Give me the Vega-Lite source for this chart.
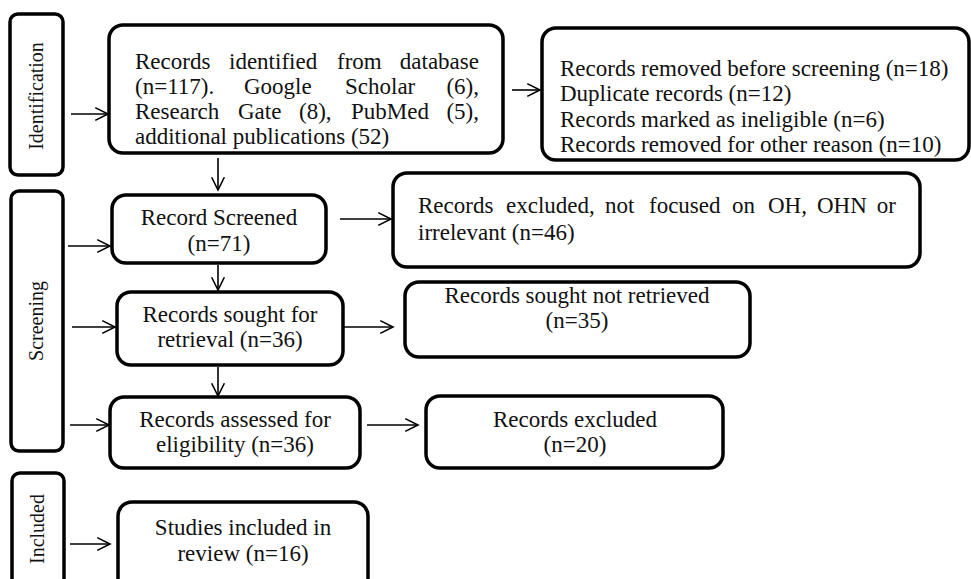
{
  "$schema": "https://vega.github.io/schema/vega-lite/v6.json",
  "width": 971,
  "height": 579,
  "padding": 0,
  "autosize": {"type": "fit", "contains": "padding"},
  "background": "white",
  "config": {"view": {"stroke": null}},
  "datasets": {
    "boxes": [
      {"id": "ident", "kind": "side", "x1": 10, "x2": 63, "y1": 14, "y2": 175},
      {"id": "screen", "kind": "side", "x1": 11, "x2": 63, "y1": 191, "y2": 451},
      {"id": "incl", "kind": "side", "x1": 12, "x2": 64, "y1": 473, "y2": 600},
      {"id": "identified", "kind": "main", "x1": 109, "x2": 503, "y1": 25, "y2": 153},
      {"id": "removed", "kind": "main", "x1": 542, "x2": 969, "y1": 28, "y2": 160},
      {"id": "screened", "kind": "main", "x1": 112, "x2": 326, "y1": 195, "y2": 263},
      {"id": "excl46", "kind": "main", "x1": 393, "x2": 920, "y1": 173, "y2": 267},
      {"id": "sought", "kind": "main", "x1": 117, "x2": 343, "y1": 292, "y2": 365},
      {"id": "notret", "kind": "main", "x1": 405, "x2": 750, "y1": 282, "y2": 357},
      {"id": "assessed", "kind": "main", "x1": 110, "x2": 360, "y1": 397, "y2": 468},
      {"id": "excl20", "kind": "main", "x1": 426, "x2": 723, "y1": 396, "y2": 468},
      {"id": "studies", "kind": "main", "x1": 118, "x2": 368, "y1": 502, "y2": 600}
    ],
    "arrows": [
      {"x": 71, "y": 114, "x2": 108, "y2": 114, "ang": 0},
      {"x": 512, "y": 90, "x2": 540, "y2": 90, "ang": 0},
      {"x": 218, "y": 158, "x2": 218, "y2": 190, "ang": 90},
      {"x": 68, "y": 246, "x2": 110, "y2": 246, "ang": 0},
      {"x": 340, "y": 219, "x2": 391, "y2": 219, "ang": 0},
      {"x": 218, "y": 265, "x2": 218, "y2": 290, "ang": 90},
      {"x": 72, "y": 327, "x2": 115, "y2": 327, "ang": 0},
      {"x": 344, "y": 327, "x2": 393, "y2": 327, "ang": 0},
      {"x": 218, "y": 367, "x2": 218, "y2": 396, "ang": 90},
      {"x": 70, "y": 425, "x2": 109, "y2": 425, "ang": 0},
      {"x": 367, "y": 425, "x2": 418, "y2": 425, "ang": 0},
      {"x": 70, "y": 544, "x2": 110, "y2": 544, "ang": 0}
    ],
    "lines": [
      {"align": "left", "x": 135, "y": 69, "text": "Records"},
      {"align": "left", "x": 229, "y": 69, "text": "identified"},
      {"align": "left", "x": 337, "y": 69, "text": "from"},
      {"align": "right", "x": 479, "y": 69, "text": "database"},
      {"align": "left", "x": 135, "y": 94, "text": "(n=117)."},
      {"align": "left", "x": 244, "y": 94, "text": "Google"},
      {"align": "left", "x": 345, "y": 94, "text": "Scholar"},
      {"align": "right", "x": 479, "y": 94, "text": "(6),"},
      {"align": "left", "x": 135, "y": 119, "text": "Research"},
      {"align": "left", "x": 238, "y": 119, "text": "Gate"},
      {"align": "left", "x": 299, "y": 119, "text": "(8),"},
      {"align": "left", "x": 351, "y": 119, "text": "PubMed"},
      {"align": "right", "x": 479, "y": 119, "text": "(5),"},
      {"align": "left", "x": 135, "y": 144, "text": "additional publications (52)"},
      {"align": "left", "x": 560, "y": 76, "text": "Records removed before screening (n=18)"},
      {"align": "left", "x": 560, "y": 101, "text": "Duplicate records (n=12)"},
      {"align": "left", "x": 560, "y": 127, "text": "Records marked as ineligible (n=6)"},
      {"align": "left", "x": 560, "y": 152, "text": "Records removed for other reason (n=10)"},
      {"align": "left", "x": 418, "y": 213, "text": "Records"},
      {"align": "left", "x": 506, "y": 213, "text": "excluded,"},
      {"align": "left", "x": 605, "y": 213, "text": "not"},
      {"align": "left", "x": 649, "y": 213, "text": "focused"},
      {"align": "left", "x": 732, "y": 213, "text": "on"},
      {"align": "left", "x": 768, "y": 213, "text": "OH,"},
      {"align": "left", "x": 817, "y": 213, "text": "OHN"},
      {"align": "right", "x": 896, "y": 213, "text": "or"},
      {"align": "left", "x": 418, "y": 240, "text": "irrelevant (n=46)"},
      {"align": "center", "x": 219, "y": 225, "text": "Record Screened"},
      {"align": "center", "x": 219, "y": 251, "text": "(n=71)"},
      {"align": "center", "x": 230, "y": 322, "text": "Records sought for"},
      {"align": "center", "x": 230, "y": 347, "text": "retrieval (n=36)"},
      {"align": "center", "x": 577, "y": 303, "text": "Records sought not retrieved"},
      {"align": "center", "x": 577, "y": 328, "text": "(n=35)"},
      {"align": "center", "x": 235, "y": 427, "text": "Records assessed for"},
      {"align": "center", "x": 235, "y": 452, "text": "eligibility (n=36)"},
      {"align": "center", "x": 575, "y": 427, "text": "Records excluded"},
      {"align": "center", "x": 575, "y": 452, "text": "(n=20)"},
      {"align": "center", "x": 243, "y": 535, "text": "Studies included in"},
      {"align": "center", "x": 243, "y": 561, "text": "review (n=16)"},
      {"align": "vertical", "x": 37, "y": 96, "text": "Identification"},
      {"align": "vertical", "x": 37, "y": 321, "text": "Screening"},
      {"align": "vertical", "x": 38, "y": 529, "text": "Included"}
    ]
  },
  "layer": [
    {
      "data": {"name": "boxes"},
      "transform": [{"filter": "datum.kind === 'side'"}],
      "mark": {"type": "rect", "fill": "white", "stroke": "black", "strokeWidth": 3.5, "cornerRadius": 8, "clip": true},
      "encoding": {
        "x": {"field": "x1", "type": "quantitative", "scale": {"domain": [0, 971], "nice": false, "zero": false}, "axis": null},
        "x2": {"field": "x2"},
        "y": {"field": "y1", "type": "quantitative", "scale": {"domain": [0, 579], "nice": false, "zero": false, "reverse": true}, "axis": null},
        "y2": {"field": "y2"}
      }
    },
    {
      "data": {"name": "boxes"},
      "transform": [{"filter": "datum.kind === 'main'"}],
      "mark": {"type": "rect", "fill": "white", "stroke": "black", "strokeWidth": 3.5, "cornerRadius": 14, "clip": true},
      "encoding": {
        "x": {"field": "x1", "type": "quantitative", "scale": {"domain": [0, 971], "nice": false, "zero": false}, "axis": null},
        "x2": {"field": "x2"},
        "y": {"field": "y1", "type": "quantitative", "scale": {"domain": [0, 579], "nice": false, "zero": false, "reverse": true}, "axis": null},
        "y2": {"field": "y2"}
      }
    },
    {
      "data": {"name": "arrows"},
      "mark": {"type": "rule", "color": "black", "strokeWidth": 1.6, "clip": true},
      "encoding": {
        "x": {"field": "x", "type": "quantitative", "scale": {"domain": [0, 971], "nice": false, "zero": false}, "axis": null},
        "x2": {"field": "x2"},
        "y": {"field": "y", "type": "quantitative", "scale": {"domain": [0, 579], "nice": false, "zero": false, "reverse": true}, "axis": null},
        "y2": {"field": "y2"}
      }
    },
    {
      "data": {"name": "arrows"},
      "mark": {"type": "point", "shape": "M-1,-0.5L0,0L-1,0.5", "filled": false, "stroke": "black", "strokeWidth": 1.6, "opacity": 1, "size": 650, "clip": true},
      "encoding": {
        "x": {"field": "x2", "type": "quantitative", "scale": {"domain": [0, 971], "nice": false, "zero": false}, "axis": null},
        "y": {"field": "y2", "type": "quantitative", "scale": {"domain": [0, 579], "nice": false, "zero": false, "reverse": true}, "axis": null},
        "angle": {"field": "ang", "type": "quantitative", "scale": null}
      }
    },
    {
      "data": {"name": "lines"},
      "transform": [{"filter": "datum.align === 'left'"}],
      "mark": {"type": "text", "align": "left", "baseline": "alphabetic", "font": "Liberation Serif", "fontSize": 23, "color": "#111111", "clip": true},
      "encoding": {
        "x": {"field": "x", "type": "quantitative", "scale": {"domain": [0, 971], "nice": false, "zero": false}, "axis": null},
        "y": {"field": "y", "type": "quantitative", "scale": {"domain": [0, 579], "nice": false, "zero": false, "reverse": true}, "axis": null},
        "text": {"field": "text"}
      }
    },
    {
      "data": {"name": "lines"},
      "transform": [{"filter": "datum.align === 'right'"}],
      "mark": {"type": "text", "align": "right", "baseline": "alphabetic", "font": "Liberation Serif", "fontSize": 23, "color": "#111111", "clip": true},
      "encoding": {
        "x": {"field": "x", "type": "quantitative", "scale": {"domain": [0, 971], "nice": false, "zero": false}, "axis": null},
        "y": {"field": "y", "type": "quantitative", "scale": {"domain": [0, 579], "nice": false, "zero": false, "reverse": true}, "axis": null},
        "text": {"field": "text"}
      }
    },
    {
      "data": {"name": "lines"},
      "transform": [{"filter": "datum.align === 'center'"}],
      "mark": {"type": "text", "align": "center", "baseline": "alphabetic", "font": "Liberation Serif", "fontSize": 23, "color": "#111111", "clip": true},
      "encoding": {
        "x": {"field": "x", "type": "quantitative", "scale": {"domain": [0, 971], "nice": false, "zero": false}, "axis": null},
        "y": {"field": "y", "type": "quantitative", "scale": {"domain": [0, 579], "nice": false, "zero": false, "reverse": true}, "axis": null},
        "text": {"field": "text"}
      }
    },
    {
      "data": {"name": "lines"},
      "transform": [{"filter": "datum.align === 'vertical'"}],
      "mark": {"type": "text", "align": "center", "baseline": "middle", "angle": 270, "font": "Liberation Serif", "fontSize": 20, "color": "#111111", "clip": true},
      "encoding": {
        "x": {"field": "x", "type": "quantitative", "scale": {"domain": [0, 971], "nice": false, "zero": false}, "axis": null},
        "y": {"field": "y", "type": "quantitative", "scale": {"domain": [0, 579], "nice": false, "zero": false, "reverse": true}, "axis": null},
        "text": {"field": "text"}
      }
    }
  ]
}
